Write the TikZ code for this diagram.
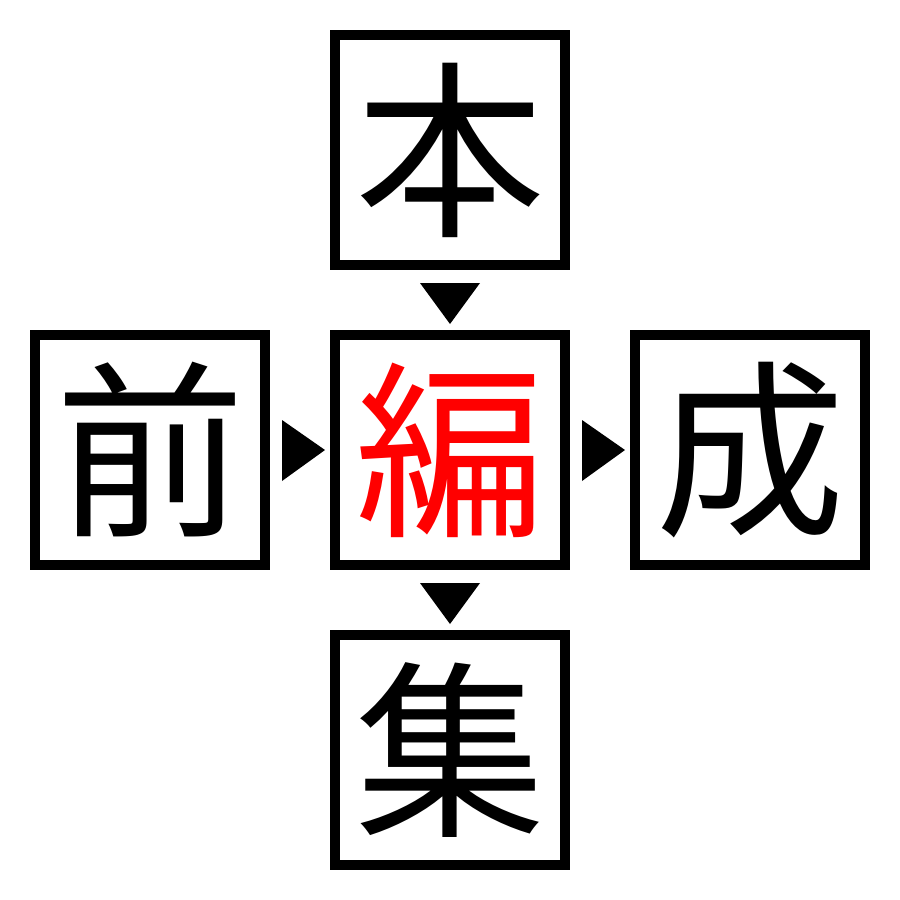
\documentclass[tikz,border=0pt]{standalone}
\usepackage{fontspec}
\newfontfamily\cjk{Noto Sans CJK JP}
\definecolor{kred}{RGB}{255,0,0}
\begin{document}
\begin{tikzpicture}[x=0.01cm,y=-0.01cm,
  kbox/.style={draw=black,line width=0.1cm,minimum size=2.3cm,inner sep=0pt,font=\cjk\fontsize{54}{54}\selectfont},
  tri/.style={fill=black,draw=none}]
\useasboundingbox (0,0) rectangle (900,900);
\node[kbox] (top) at (450,150) {本};
\node[kbox] (left) at (150,450) {前};
\node[kbox,text=kred] (mid) at (450,450) {編};
\node[kbox] (right) at (750,450) {成};
\node[kbox] (bot) at (450,750) {集};
\coordinate (t1) at (450,300);
\coordinate (t2) at (300,450);
\coordinate (t3) at (600,450);
\coordinate (t4) at (450,600);
\fill[tri] ([shift={(-30,-17)}]t1) -- ([shift={(30,-17)}]t1) -- ([shift={(0,24)}]t1) -- cycle;
\fill[tri] ([shift={(-30,-17)}]t4) -- ([shift={(30,-17)}]t4) -- ([shift={(0,24)}]t4) -- cycle;
\fill[tri] ([shift={(-18,-30)}]t2) -- ([shift={(-18,31)}]t2) -- ([shift={(25,0)}]t2) -- cycle;
\fill[tri] ([shift={(-18,-30)}]t3) -- ([shift={(-18,31)}]t3) -- ([shift={(25,0)}]t3) -- cycle;
\end{tikzpicture}
\end{document}
